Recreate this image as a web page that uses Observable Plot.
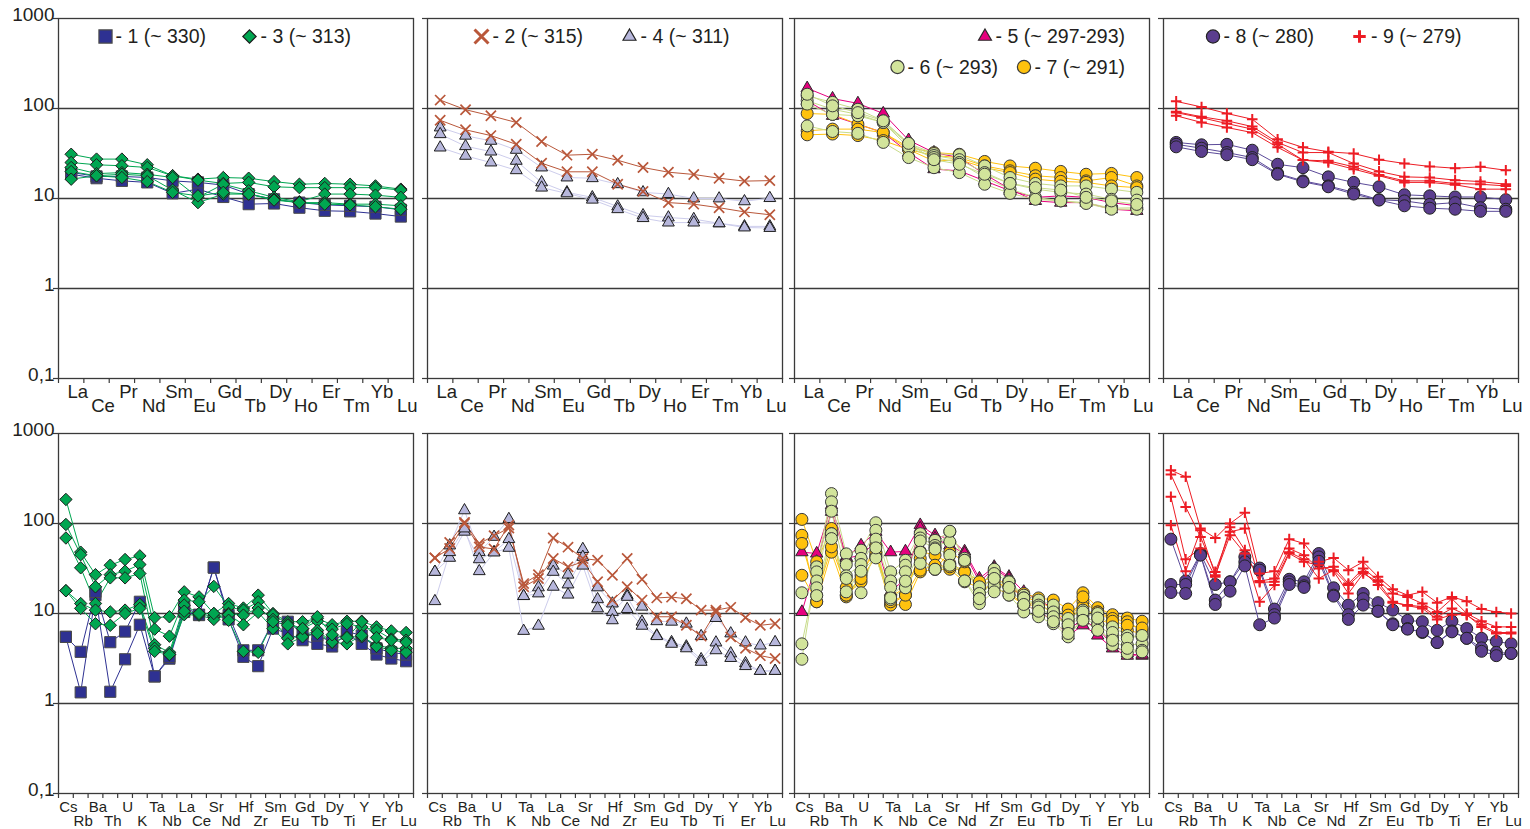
<!DOCTYPE html>
<html>
<head>
<meta charset="utf-8">
<script src="https://cdn.jsdelivr.net/npm/d3@7"></script>
<script src="https://cdn.jsdelivr.net/npm/@observablehq/plot@0.6"></script>
<style>
html, body { margin: 0; padding: 0; background: #fff; }
#chart { position: relative; width: 1530px; height: 829px; overflow: hidden; background: #fff; }
#chart svg { position: absolute; }
</style>
</head>
<body>
<div id="chart"></div>
<script>
// ---------- categories & tick labels ----------
const REE = ["La","Ce","Pr","Nd","Sm","Eu","Gd","Tb","Dy","Ho","Er","Tm","Yb","Lu"];
const SPIDER = ["Cs","Rb","Ba","Th","U","K","Ta","Nb","La","Ce","Sr","Nd","Hf","Zr","Sm","Eu","Gd","Tb","Dy","Ti","Y","Er","Yb","Lu"];
const yTicks = [0.1, 1, 10, 100, 1000];
const yTickLabels = ["0,1", "1", "10", "100", "1000"];
const gridValues = [1, 10, 100];

// ---------- legend labels ----------
const legendLabels = {
  "1": "- 1 (~ 330)", "3": "- 3 (~ 313)",
  "2": "- 2 (~ 315)", "4": "- 4 (~ 311)",
  "5": "- 5 (~ 297-293)", "6": "- 6 (~ 293)", "7": "- 7 (~ 291)",
  "8": "- 8 (~ 280)", "9": "- 9 (~ 279)"
};

// ---------- REE (chondrite-normalised) values, one row per sample ----------
const reeS1 = [
  [18.6,16.8,15.7,15.1,11.4,12.7,10.4,8.65,8.8,7.9,7.3,7.2,6.8,6.3],
  [19.5,17.6,17.6,17.1,15.7,15.1,14.1,11.2,9.8,9.0,8.5,8.3,8.1,7.5]
];
const reeS3 = [
  [31,27.4,27.4,23.7,17.9,16.4,17.1,16.8,15.4,14.4,14.7,14.4,13.8,12.7],
  [25.1,23.7,23.1,22.1,17.9,16,14.7,15.1,13.5,13.2,13.2,13.2,13.2,12.4],
  [22.1,18.9,19.4,18.6,17.1,10.3,14.4,12.2,10.3,9.2,11.2,11.2,10.9,10.3],
  [19.9,17.9,18.6,17.9,12.4,9.0,11.2,11.2,9.8,9.0,9.0,8.65,8.65,8.3],
  [16.4,17.9,17.1,15.4,11.7,10.7,11.7,11.2,9.6,9.0,8.65,8.5,8.1,7.6]
];
const reeS2 = [
  [124,97,83,70,43,30.3,31,26.6,22.1,19.6,18.5,16.8,15.6,15.8],
  [74,58,50,40,24.7,19.8,19.8,14.4,12,9.0,8.65,7.9,7.1,6.6]
];
const reeS4 = [
  [61.5,49.8,43.7,34.7,22.1,17.1,16.8,14.4,11.7,11.2,10,10,9.3,10.1],
  [51.8,38.1,33.2,26.2,15.1,11.7,10.3,8.15,6.5,6.15,5.9,5.3,4.9,4.9],
  [36.8,29.8,25.1,20.6,13.2,11.4,9.7,7.6,6.05,5.4,5.4,5.3,4.76,4.7]
];
const reeS5 = [
  [168,129,114,88,44.5,32.4,28.5,18.6,12.7,9.4,9.0,9.0,7.6,7.3],
  [122,83,67,54,32.4,21.2,20.3,15.7,12.2,10.3,10.7,10.3,9.0,8.3]
];
const reeS6 = [
  [138,117,98,73,41,31.6,30.6,23,17.1,14.7,13.8,13.8,12.7,11.7],
  [122,98,86,70,40,30,27,19.4,14.7,12.7,11.7,11.2,9.8,9.6],
  [112,86,83,70,37,28.5,25.1,17.1,12.7,10.3,9.4,9.0,7.8,7.9],
  [64,55.5,53,42,28.5,22,19.4,14.4,11.4,9.8,9.4,8.8,7.6,7.6],
  [144,107,90,73,41,27,24,18.6,14.7,13.2,12.4,10.3,9.4,8.6]
];
const reeS7 = [
  [88,86,67,54,37,32.4,31,25.8,23,21.7,20,18.6,19,17.1],
  [56.5,59,59,54,35,30,28.5,23,20.3,17.9,17.1,15.7,17.1,13.8],
  [51,52,50,44,35,26,27,22,19.4,16.4,15.5,15.1,13.8,13.2]
];
const reeS8 = [
  [42,39.5,40,34.4,24,22,17.4,15.1,13.5,11,10.7,10.4,10.4,9.7],
  [40,36.2,32.4,28.5,19,15.7,13.8,11.7,9.7,9.4,8.6,9.0,7.9,7.6],
  [37.5,33.3,30.6,27,18.6,15.3,13.5,11.2,9.6,8.3,7.8,7.6,7.2,7.2]
];
const reeS9 = [
  [120,104,88,76,45.6,37,33,31.6,27,24.5,22.7,21.7,22.5,20.6],
  [92,81,73,63,42,32.4,32.4,24.5,20,17.4,17.1,16,15.4,14.4],
  [90,79,68,59,40,26.7,26.2,22.5,18.3,15.7,15.7,14.7,14.4,13.8],
  [83,70,61.5,54,37,26.7,25.1,21.2,17.9,15.1,15.1,14.2,12.7,12.7]
];

// ---------- multi-element (spider) values, one row per sample ----------
const spS1 = [
  [5.5,1.33,16,1.35,3.1,7.5,2.0,3.15,10.4,9.6,32.4,8.6,3.3,2.6,6.8,6.0,5.05,4.6,4.3,6.0,4.6,3.5,3.16,2.95],
  [5.5,3.75,17.4,4.8,6.3,13.5,2.0,3.3,11.8,9.7,32.4,9.6,3.9,3.9,8.1,8.1,6.0,5.7,4.8,6.3,5.7,4.1,3.7,3.5]
];
const spS3 = [
  [185,48,27,34.4,39.8,43.7,9.0,9.2,17.4,15.3,10,12.9,11.5,16,10,8.1,8.1,8.8,7.5,8.2,8.2,7.1,6.4,6.15],
  [97.5,45,19.8,27,29.5,35,6.7,5.6,14.1,13.5,20,11.8,10.9,13.5,9.7,7.7,6.8,8.2,6.7,7.7,7.1,6.5,5.2,5.05],
  [69,32.2,12.9,24.9,24.9,27.8,4.5,3.7,12.4,10,9.2,10,9.6,11.5,8.6,5.3,5.7,6.5,4.8,5.5,5.5,4.45,4.1,4.1],
  [17.9,12.9,10.9,10.4,10.9,12.6,4.1,3.5,9.7,9.6,8.6,9.7,7.5,10.3,6.8,4.6,5.5,6.0,4.8,4.6,5.7,4.3,3.9,3.7],
  [17.9,11.4,7.7,7.4,10,11.4,3.8,3.5,10.6,10,10,8.4,3.8,3.7,8.1,7.4,6.8,9.2,5.8,5.4,8.1,5.4,5.05,4.8]
];
const spS2 = [
  [41.5,61.5,103,60,73,89,21.5,27,69,54.6,40.8,39.1,26.6,40.8,24,14.9,15.2,14.6,10.9,10.9,11.7,9.0,7.4,7.7],
  [41.5,52.7,100,55,52,96,19.8,24.5,40.8,33,37.5,22.5,14.1,19.8,14.1,9.2,9.2,7.4,5.6,10.4,5.5,4.1,3.4,3.16]
];
const spS4 = [
  [29,57,140,48,71,112,15.6,19.5,34,27,52,19.5,12.9,16,11.9,8.2,8.1,7.7,5.6,8.9,6.0,4.76,4.4,4.8],
  [29,41.5,81,40,48,67,15.6,16.7,29,21,42.5,14.4,10.4,15.3,8.1,5.7,4.8,4.3,3.1,4.76,3.6,2.8,2.3,2.3],
  [13.7,48,88,29.5,47.6,53.6,6.4,7.3,19.8,16.2,34,11.4,8.4,11.2,7.3,5.6,4.6,4.1,2.9,3.9,3.2,2.6,2.3,2.3]
];
const spS5 = [
  [48,46.4,160,42.5,57,81,48,49,96,74,68,49,24.5,33,25.6,17.4,14.1,11.4,6.8,8.4,6.8,4.45,3.6,3.4],
  [10.4,37.5,135,41,44.5,62.6,17.4,24.5,88,68,57,46.4,22.5,31.6,24.5,12.9,10.4,8.4,5.7,7.4,5.7,4.1,3.4,3.5]
];
const spS6 = [
  [3.1,33,215,46,50.6,102,29,39,77,65,81,41,19.8,31,22.9,16,14.1,12.4,8.8,10.9,10,7.1,5.7,5.5],
  [4.6,29,174,35,41,84,23,34.4,69,57,62.6,39,16.7,27.8,22.5,14.9,12.4,10.4,7.1,9.6,7.7,5.5,4.45,4.6],
  [17,23,137,26.2,35,67,19.5,29,64,53.6,44.5,23,14.6,20.3,16,10.4,9.2,7.7,5.5,8.8,7.5,4.45,3.6,3.9],
  [null,19.3,77,17.4,29.5,41.5,14.3,19.3,36,31,34.4,23,12.9,17.4,22.5,14.9,11.8,9.2,7.5,10.4,8.9,6.15,5.3,5.7],
  [null,15.8,68,24.5,17,53.6,14.9,22.9,48,52,82,39,14.6,24.5,19.5,12.6,10.6,8.1,6.0,8.4,6.5,5.05,4.1,3.75]
];
const spS7 = [
  [111,37.5,88,15.3,26.6,57,12.6,16,49,44.5,35.9,29.5,22.5,25.6,19.8,16.7,14.9,14.1,11.2,17,11.6,9.7,8.9,8.2],
  [74,13.5,48,16,22.5,44.5,12.4,12.6,29,31,31,22.5,19.5,19.8,16,12.6,13.5,11.4,9.6,13.5,10.4,8.8,8.1,6.5],
  [60,16,55,19.5,29,48,13.5,16,30.3,34.4,33,29,19.5,24.5,17.4,12.4,12.4,10.4,8.4,11.9,8.9,7.4,6.5,6.0],
  [26.6,13.5,77,16,24.5,42.5,15.3,19.5,40.8,31,48,37.5,16.7,22,19.8,15.3,13.5,9.6,7.7,15.3,10.4,8.2,7.4,6.9]
];
const spS8 = [
  [67,23,46.4,21,22.5,42.5,32,11.2,24,22.5,46.4,19.3,12.4,16.7,13.2,10.9,8.4,8.1,6.5,8.2,6.8,5.3,4.9,4.6],
  [21,21,45,14.1,22.5,37.5,30.3,9.7,22.5,20.3,42.5,16,9.7,14.6,10.6,7.7,6.8,6.15,4.76,6.4,5.3,4.15,3.7,3.6],
  [17.1,16.7,44.5,12.6,17.7,33.8,7.5,8.9,21,19.5,38,15.6,8.6,12.4,10.6,7.5,6.7,6.25,4.76,6.25,5.3,3.8,3.4,3.6]
];
const spS9 = [
  [391,330,88,69,100,132,27.8,29.5,67,60,37.5,41.5,30.3,37.5,25.6,18.6,16,17.4,13.2,15.3,13.7,11.2,10.4,10],
  [350,153,71,29,81,88,22.9,24.5,52.7,44.5,31.6,33,21.5,31.6,23.4,16.7,15.3,12.9,10.4,14.6,10,8.2,7.1,7.1],
  [198,40,52.7,25.6,91,50.6,22.2,22.5,48,40,24.5,30.3,20.7,29,20.7,13.2,12.4,11.9,9.2,11.4,9.6,7.5,6.15,6.15],
  [95.5,29.5,84,26.6,74,46.4,13.5,20.7,46.4,37.5,34.4,29.5,16.7,27.8,22.5,13.5,12.2,11.4,8.6,9.7,9.7,7.1,6.0,6.0]
];

// ---------- styles ----------
const FONT = "'Liberation Sans', Arial, Helvetica, sans-serif";
const INK = "#231f20";
const styles = {
  "1": {symbol: "square",   r: 6.3, fill: "#2e3192", stroke: "#4a4a4a", sw: 1,   line: "#2e3192", lr: 7.4, lsw: 1.2},
  "3": {symbol: "diamond2", r: 5.6, fill: "#00a651", stroke: "#1e1e1e", sw: 1,   line: "#00a651", lr: 6.0, lsw: 1.2},
  "2": {symbol: "times",    r: 4.7, fill: "none",    stroke: "#b9573a", sw: 1.7, line: "#b9573a", lr: 6.4, lsw: 3},
  "4": {symbol: "triangle", r: 4.4, fill: "#b7b7dc", stroke: "#1e1e1e", sw: 1,   line: "#cdcdec", lr: 4.8, lsw: 1.2},
  "5": {symbol: "triangle", r: 4.6, fill: "#e6007e", stroke: "#2a2a2a", sw: 1,   line: "#e6007e", lr: 4.8, lsw: 1.2},
  "6": {symbol: "circle",   r: 6.0, fill: "#d2e49b", stroke: "#3a3a3a", sw: 1,   line: "#c8dc8a", lr: 6.6, lsw: 1.2},
  "7": {symbol: "circle",   r: 6.0, fill: "#ffc20e", stroke: "#3a3a3a", sw: 1,   line: "#ffc20e", lr: 6.6, lsw: 1.2},
  "8": {symbol: "circle",   r: 6.0, fill: "#5b3e8e", stroke: "#222",    sw: 1,   line: "#5b4a99", lr: 6.6, lsw: 1.2},
  "9": {symbol: "plus",     r: 3.5, fill: "none",    stroke: "#ed1c24", sw: 2,   line: "#ed1c24", lr: 4.1, lsw: 3}
};

// ---------- layout ----------
const FW = 355, FH = 360;
const colLefts = [58, 426.5, 794, 1163];
const rowTops = [18, 433];

const panels = [
  {row: 0, col: 0, elements: REE, series: [["1", reeS1], ["3", reeS3]],
   legend: [{s: "1", mx: 47, tx: 57, y: 18}, {s: "3", mx: 191, tx: 202, y: 18}]},
  {row: 0, col: 1, elements: REE, series: [["4", reeS4], ["2", reeS2]],
   legend: [{s: "2", mx: 54, tx: 65, y: 18}, {s: "4", mx: 202, tx: 213, y: 18}]},
  {row: 0, col: 2, elements: REE, series: [["5", reeS5], ["7", reeS7], ["6", reeS6]],
   legend: [{s: "5", mx: 190.5, tx: 201, y: 18}, {s: "6", mx: 103, tx: 113, y: 48.5}, {s: "7", mx: 229.5, tx: 240, y: 48.5}]},
  {row: 0, col: 3, elements: REE, series: [["8", reeS8], ["9", reeS9]],
   legend: [{s: "8", mx: 49.5, tx: 60, y: 18}, {s: "9", mx: 196, tx: 207.5, y: 18}]},
  {row: 1, col: 0, elements: SPIDER, series: [["1", spS1], ["3", spS3]], legend: []},
  {row: 1, col: 1, elements: SPIDER, series: [["4", spS4], ["2", spS2]], legend: []},
  {row: 1, col: 2, elements: SPIDER, series: [["5", spS5], ["7", spS7], ["6", spS6]], legend: []},
  {row: 1, col: 3, elements: SPIDER, series: [["8", spS8], ["9", spS9]], legend: []}
];

function tidy(elements, rows, s) {
  return rows.flatMap((row, j) => row.map((v, i) => ({el: elements[i], v, sample: s + "-" + j, series: s})))
             .filter(d => d.v != null);
}

function makePanel(p) {
  const showY = p.col === 0;
  const mL = showY ? 58 : 8, mR = 8, mT = 18, mB = 38;
  const n = p.elements.length;
  const step = FW / n;
  const top = p.row === 0;
  const labelSize = top ? 18.5 : 15;
  const labelDx = top ? 6.5 : 2.5;
  const up = top ? 19 : 18.7, down = top ? 33 : 32.7;
  const marks = [];

  marks.push(Plot.ruleY(gridValues, {y: d => d, stroke: "#3a3a3a", strokeWidth: 1.3}));
  marks.push(Plot.ruleY(yTicks, {y: d => d, insetLeft: -5, insetRight: FW, stroke: "#3a3a3a", strokeWidth: 1.2}));
  if (showY) {
    marks.push(Plot.text(yTicks, {y: d => d, text: (d, i) => yTickLabels[i], frameAnchor: "left",
      dx: -4, dy: -3.5, textAnchor: "end", lineAnchor: "middle", fontSize: 19, fill: INK, fontFamily: FONT}));
  }
  // category boundary ticks
  marks.push(Plot.ruleX(p.elements, {x: d => d, dx: -step / 2, insetTop: FH, insetBottom: -5, stroke: "#3a3a3a", strokeWidth: 1.2}));
  marks.push(Plot.ruleX(p.elements.slice(-1), {x: d => d, dx: step / 2, insetTop: FH, insetBottom: -5, stroke: "#3a3a3a", strokeWidth: 1.2}));
  // category labels, staggered
  marks.push(Plot.text(p.elements, {x: d => d, filter: (d, i) => i % 2 === 0, frameAnchor: "bottom",
    dx: labelDx, dy: up, lineAnchor: "bottom", fontSize: labelSize, fill: INK, fontFamily: FONT}));
  marks.push(Plot.text(p.elements, {x: d => d, filter: (d, i) => i % 2 === 1, frameAnchor: "bottom",
    dx: labelDx, dy: down, lineAnchor: "bottom", fontSize: labelSize, fill: INK, fontFamily: FONT}));

  // data
  for (const [s, rows] of p.series) {
    const st = styles[s];
    marks.push(Plot.line(tidy(p.elements, rows, s), {x: "el", y: "v", z: "sample", stroke: st.line, strokeWidth: 1}));
  }
  for (const [s, rows] of p.series) {
    const st = styles[s];
    marks.push(Plot.dot(tidy(p.elements, rows, s), {x: "el", y: "v", symbol: st.symbol, r: st.r,
      fill: st.fill, stroke: st.stroke, strokeWidth: st.sw}));
  }

  marks.push(Plot.frame({stroke: "#3a3a3a", strokeWidth: 1.3}));

  // legend
  for (const item of p.legend) {
    const st = styles[item.s];
    marks.push(Plot.dot([item.s], {frameAnchor: "top-left", dx: item.mx, dy: item.y, symbol: st.symbol, r: st.lr,
      fill: st.fill, stroke: st.stroke, strokeWidth: st.lsw}));
    marks.push(Plot.text([legendLabels[item.s]], {frameAnchor: "top-left", dx: item.tx, dy: item.y + 0.7,
      textAnchor: "start", lineAnchor: "middle", fontSize: 19.5, fill: INK, fontFamily: FONT}));
  }

  const svg = Plot.plot({
    width: mL + FW + mR, height: mT + FH + mB,
    marginLeft: mL, marginRight: mR, marginTop: mT, marginBottom: mB,
    x: {type: "point", domain: p.elements, padding: 0.5, round: false, axis: null},
    y: {type: "log", domain: [0.1, 1000], axis: null},
    style: {background: "transparent", overflow: "visible", fontFamily: FONT},
    marks
  });
  svg.style.position = "absolute";
  svg.style.left = (colLefts[p.col] - mL) + "px";
  svg.style.top = (rowTops[p.row] - mT) + "px";
  svg.style.maxWidth = "none";
  return svg;
}

const chart = document.getElementById("chart");
for (const p of panels) chart.appendChild(makePanel(p));
</script>
</body>
</html>
